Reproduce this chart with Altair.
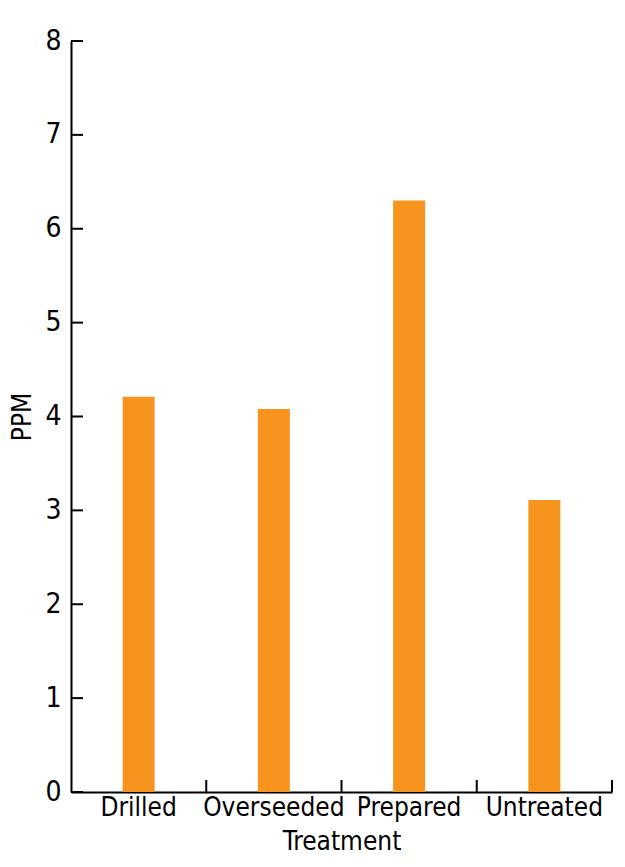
import altair as alt
import pandas as pd

categories = ["Drilled", "Overseeded", "Prepared", "Untreated"]
ppm_values = [4.21, 4.08, 6.30, 3.11]
y_ticks = [0, 1, 2, 3, 4, 5, 6, 7, 8]

FONT = "DejaVu Sans Condensed"
W, H = 541, 751

df = pd.DataFrame({"Treatment": categories, "PPM": ppm_values})
ticks_df = pd.DataFrame({"v": y_ticks})

xscale = alt.Scale(paddingInner=0, paddingOuter=0)
yscale = alt.Scale(domain=[0, 8], nice=False)

bars = alt.Chart(df).mark_bar(size=32, color="#F7941D").encode(
    x=alt.X("Treatment:N", scale=xscale, sort=categories,
            axis=alt.Axis(title="Treatment", labelAngle=0, ticks=False,
                          domainColor="black", domainWidth=2,
                          labelFont=FONT, labelFontSize=26, labelColor="black",
                          labelPadding=2, titleFont=FONT, titleFontSize=26,
                          titleFontWeight="normal", titleColor="black",
                          titlePadding=8)),
    y=alt.Y("PPM:Q", scale=yscale,
            axis=alt.Axis(title="PPM", values=y_ticks, format="d", ticks=False, grid=False,
                          domainColor="black", domainWidth=2,
                          labelFont=FONT, labelFontSize=28, labelColor="black",
                          labelPadding=10, titleFont=FONT, titleFontSize=26,
                          titleFontWeight="normal", titleColor="black",
                          titlePadding=9)),
)

ytick_marks = alt.Chart(ticks_df).mark_rule(color="black", strokeWidth=2).encode(
    y=alt.Y("v:Q", scale=yscale),
    x=alt.value(0),
    x2=alt.value(12),
)

xtick_marks = alt.Chart(df).mark_rule(color="black", strokeWidth=2).encode(
    x=alt.X("Treatment:N", scale=xscale, sort=categories, bandPosition=1),
    y=alt.value(H),
    y2=alt.value(H - 12),
)

chart = alt.layer(bars, ytick_marks, xtick_marks).properties(
    width=W, height=H,
    autosize=alt.AutoSizeParams(type="none"),
    padding={"left": 63, "top": 33, "right": 5, "bottom": 72},
).configure_view(stroke=None).configure_axis(grid=False)

chart.save("out.html", embed_options={"renderer": "svg", "actions": False})
